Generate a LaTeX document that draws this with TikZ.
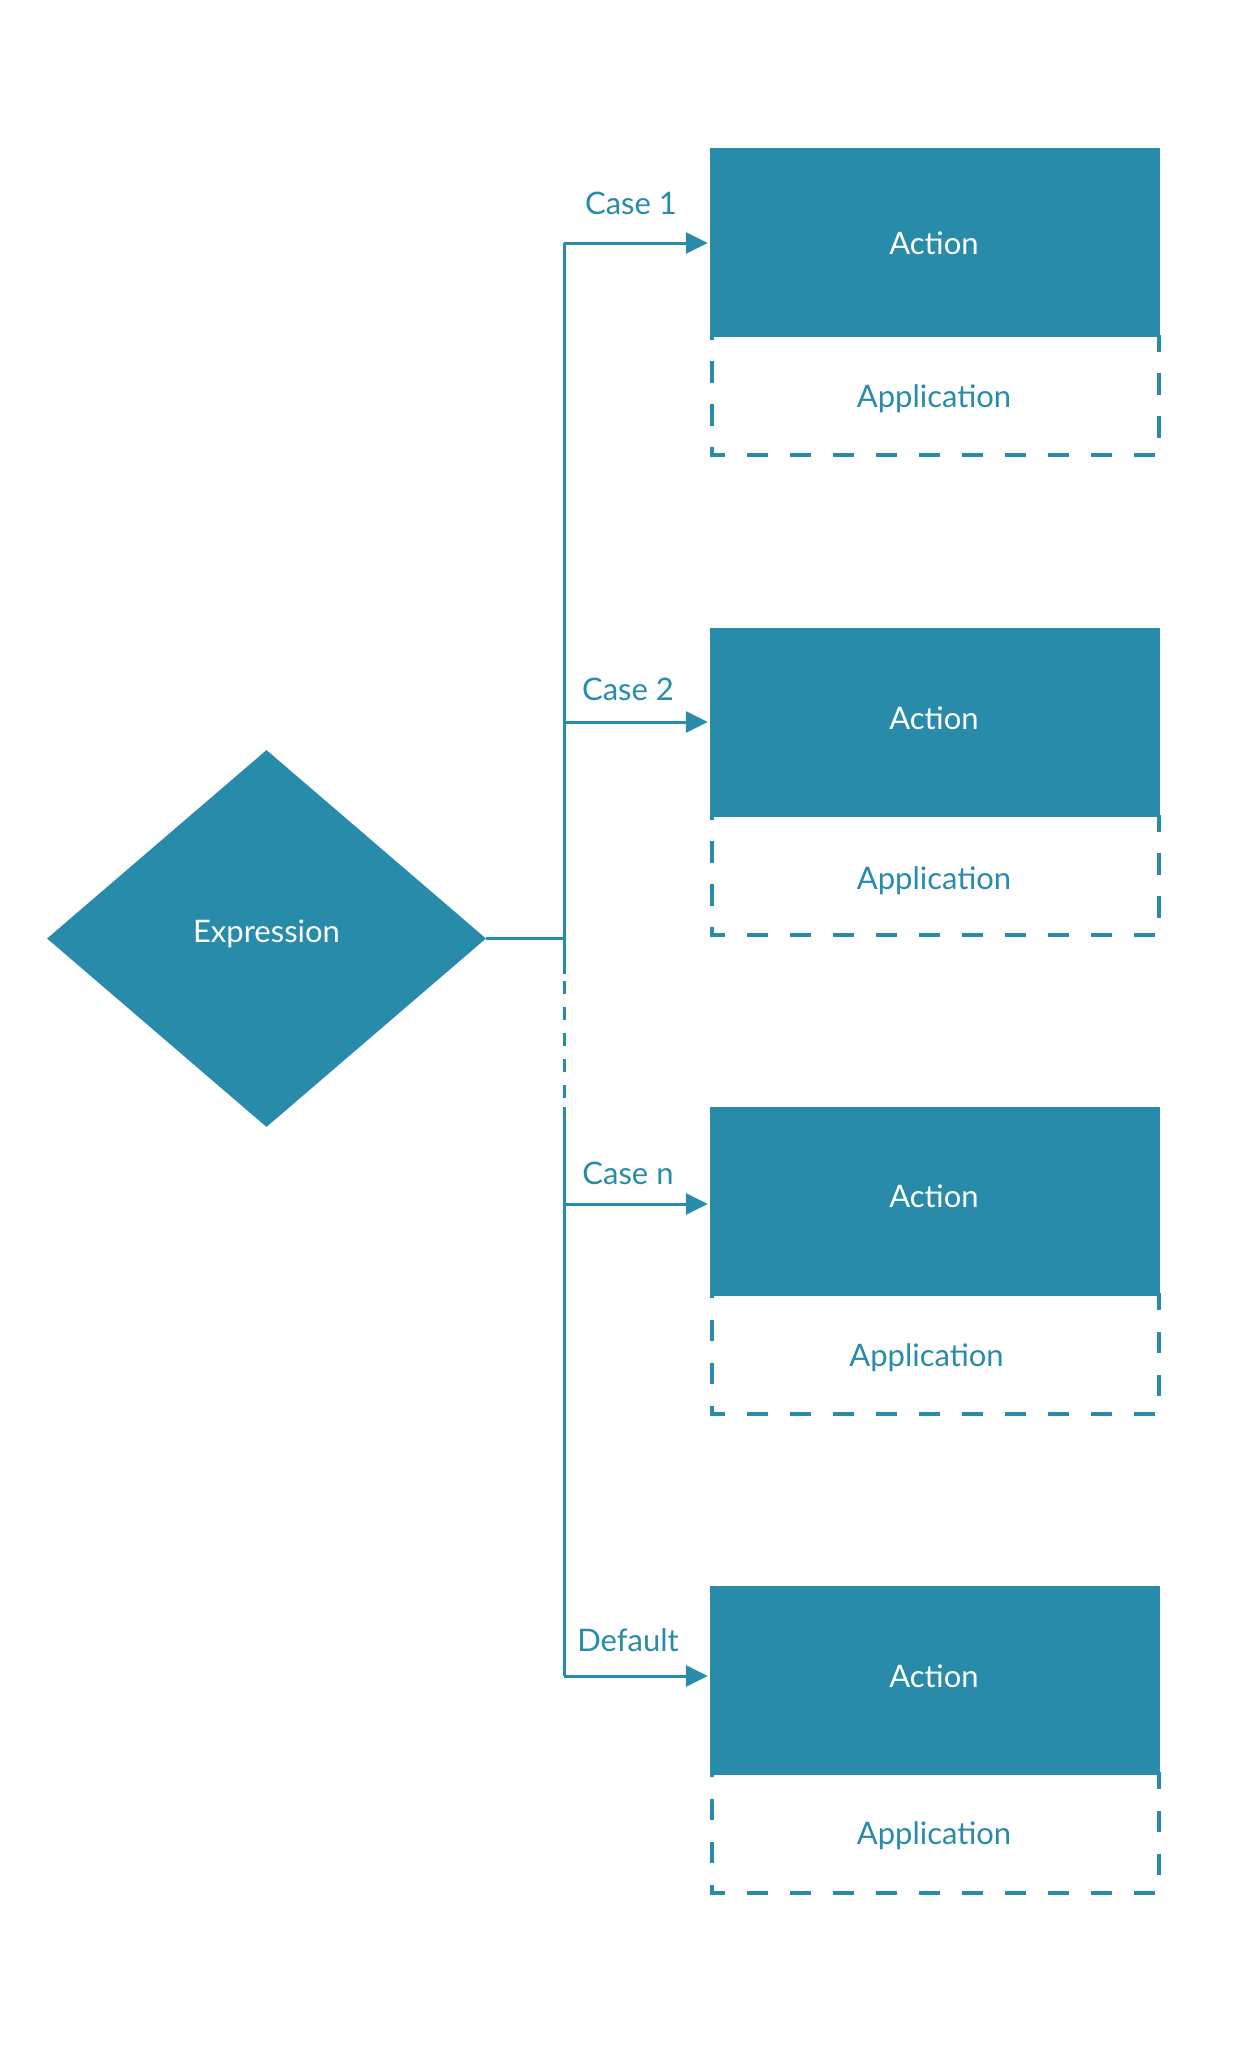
\documentclass[tikz,border=0pt]{standalone}
\usepackage{fontspec}
\setmainfont{Lato}
\usetikzlibrary{arrows.meta,shapes.geometric}
\definecolor{teal1}{HTML}{288BAA}
\begin{document}
\begin{tikzpicture}[x=1pt,y=-1pt,
  txt/.style={font=\fontsize{31}{36}\selectfont},
  actionbox/.style={fill=teal1,draw=none,minimum width=450pt,minimum height=189pt,inner sep=0pt},
  actiontext/.style={txt,text=white,anchor=base,inner sep=0pt},
  framebox/.style={draw=none,minimum width=447pt,minimum height=120pt,inner sep=0pt},
  dashframe/.style={draw=teal1,line width=4pt,dash pattern=on 21.5pt off 21.5pt,dash phase=16.5pt},
  conn/.style={draw=teal1,line width=3pt},
  arr/.style={conn,-{Triangle[length=22pt,width=21pt]},shorten >=2pt},
  lbl/.style={txt,text=teal1,anchor=base,inner sep=0pt},
  apptext/.style={txt,text=teal1,anchor=base,inner sep=0pt}
]
\useasboundingbox (0,0) rectangle (1234,2061);

% diamond
\node[diamond,fill=teal1,minimum width=439pt,minimum height=377pt,inner sep=0pt] (expr) at (266.5,938.5) {};
\node[txt,text=white,anchor=base,inner sep=0pt] (exprtext) at (266.5,942) {Expression};

% frames (dashed application boxes)
\foreach \i/\t in {1/148,2/628,3/1106.5,4/1585.5}{
  \node[framebox] (f\i) at (935.5,\t+189+58) {};
  \draw[dashframe] (f\i.north west) -- (f\i.south west) -- (f\i.south east) -- (f\i.north east);
}

% action boxes
\node[actionbox] (a1) at (935,242.5) {};
\node[actionbox] (a2) at (935,722.5) {};
\node[actionbox] (a3) at (935,1201) {};
\node[actionbox] (a4) at (935,1680) {};
\node[actiontext] (at1) at (934,254) {Action};
\node[actiontext] (at2) at (934,729) {Action};
\node[actiontext] (at3) at (934,1207) {Action};
\node[actiontext] (at4) at (934,1687) {Action};

% application texts
\node[apptext] (p1) at (934,407) {Application};
\node[apptext] (p2) at (934,889) {Application};
\node[apptext] (p3) at (926.5,1366) {Application};
\node[apptext] (p4) at (934,1844) {Application};

% trunk coordinates
\coordinate (t1) at (564,243);
\coordinate (t2) at (564,722);
\coordinate (tj) at (expr.east -| t1);
\coordinate (ds) at (564,974);
\coordinate (de) at (564,1107);
\coordinate (t3) at (564,1204);
\coordinate (t4) at (564,1676);

\draw[conn] (expr.east) -- (tj);
\draw[conn] (t1) -- (ds);
\draw[conn,dash pattern=on 13pt off 13pt,dash phase=19pt] (ds) -- (de);
\draw[conn] (de) -- (t4);

\draw[arr] (t1) -- (t1 -| a1.west);
\draw[arr] (t2) -- (t2 -| a2.west);
\draw[arr] (t3) -- (t3 -| a3.west);
\draw[arr] (t4) -- (t4 -| a4.west);

% labels
\node[lbl] (l1) at (631,214) {Case 1};
\node[lbl] (l2) at (628,700.5) {Case 2};
\node[lbl] (l3) at (628,1184) {Case n};
\node[lbl] (l4) at (628,1651) {Default};
\end{tikzpicture}
\end{document}
